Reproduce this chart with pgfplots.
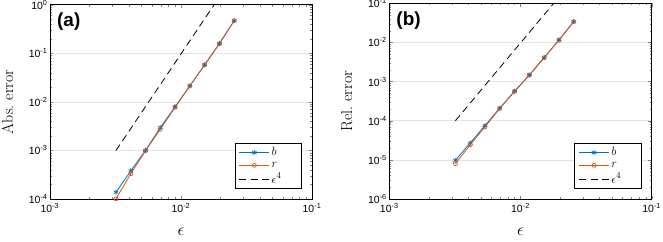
\documentclass[border=0pt]{standalone}
\usepackage{fontspec}
\usepackage{pgfplots}
\usepackage{pgfplotstable}
\pgfplotsset{compat=1.18}
\newfontfamily\arial{Liberation Sans}
\definecolor{mblue}{rgb}{0,0.447,0.741}
\definecolor{morange}{rgb}{0.85,0.325,0.098}

% absolute error: eps, b, r, eps^4 reference
\pgfplotstableread{
eps      b        r        ref
0.00319  1.38e-4  1.01e-4  1.0e-3
0.00414  3.80e-4  3.32e-4  2.83e-3
0.00536  1.00e-3  9.86e-4  8.0e-3
0.00695  2.95e-3  2.72e-3  2.26e-2
0.00901  7.90e-3  7.73e-3  6.4e-2
0.01169  2.14e-2  2.12e-2  0.181
0.01515  5.78e-2  5.73e-2  0.512
0.01965  0.159    0.157    1.448
0.02548  0.471    0.469    4.096
}\absdata

% relative error: eps, b, r, eps^4 reference
\pgfplotstableread{
eps      b        r        ref
0.00319  9.8e-6   8.0e-6   1.0e-4
0.00414  2.7e-5   2.42e-5  2.83e-4
0.00536  7.5e-5   6.98e-5  8.0e-4
0.00695  2.1e-4   2.05e-4  2.26e-3
0.00901  5.7e-4   5.6e-4   6.4e-3
0.01169  1.48e-3  1.46e-3  1.81e-2
0.01515  4.1e-3   4.07e-3  5.12e-2
0.01965  1.16e-2  1.15e-2  0.1448
0.02548  3.42e-2  3.4e-2   0.4096
}\reldata

\tikzset{
  bline/.style={mblue, line width=0.8bp, mark=asterisk, mark size=2.6bp, mark options={solid, line width=0.7bp}},
  rline/.style={morange, line width=0.8bp, mark=o, mark size=2bp, mark options={solid, line width=0.7bp}},
  refline/.style={black, line width=0.8bp, dash pattern=on 7bp off 4.5bp},
}

\newcommand{\lab}[1]{\fontsize{16}{16}\selectfont #1}
\newcommand{\leg}[1]{\makebox[24bp][l]{\fontsize{13}{13}\selectfont #1}}

\pgfplotsset{
  every axis/.append style={
    scale only axis,
    xtick={1e-3,1e-2,1e-1},
    xticklabels={10\textsuperscript{-3},10\textsuperscript{-2},10\textsuperscript{-1}},
    tick label style={font=\arial\fontsize{10.5}{12}\selectfont},
    xticklabel style={yshift=-1bp},
    yticklabel style={xshift=1bp},
    axis line style={line width=0.7bp},
    major tick length=3.5bp, minor tick length=2bp,
    ymajorgrids,
    major grid style={gray!22, line width=0.6bp},
    xlabel style={at={([yshift=-33bp]axis description cs:0.5,0)}, anchor=center},
    ylabel style={at={([xshift=-42.5bp]axis description cs:0,0.5)}, anchor=center},
    legend cell align=left,
    legend style={at={(rel axis cs:1,0)}, anchor=south east, xshift=-10bp, yshift=10bp,
      draw=black, line width=0.6bp, fill=white, inner xsep=4bp, inner ysep=2bp,
      row sep=0.5bp},
    legend image code/.code={
      \draw[mark repeat=2, mark phase=2] plot coordinates {(0bp,0bp) (15bp,0bp) (30bp,0bp)};
    },
  },
}

\begin{document}
\begin{tikzpicture}
\begin{loglogaxis}[
  anchor=south west,
  at={(50bp,43bp)}, width=262bp, height=194.3bp,
  xmin=1e-3, xmax=1e-1,
  ymin=1e-4, ymax=1,
  ytick={1e-4,1e-3,1e-2,1e-1,1},
  yticklabels={10\textsuperscript{-4},10\textsuperscript{-3},10\textsuperscript{-2},10\textsuperscript{-1},10\textsuperscript{0}},
  xlabel={\lab{$\epsilon$}},
  ylabel={\lab{Abs.\ error}},
]
\addplot[bline] table[x=eps, y=b] {\absdata};
\addlegendentry{\leg{$b$}}
\addplot[rline] table[x=eps, y=r] {\absdata};
\addlegendentry{\leg{$r$}}
\addplot[refline] table[x=eps, y=ref] {\absdata};
\addlegendentry{\leg{$\epsilon^4$}}
\node[anchor=north west, font=\arial\bfseries\fontsize{19}{19}\selectfont, inner sep=0pt]
  at (rel axis cs:0,1) [xshift=7bp, yshift=-8bp] {(a)};
\end{loglogaxis}

\begin{loglogaxis}[
  anchor=south west,
  at={(389.3bp,43bp)}, width=262.4bp, height=195.7bp,
  xmin=1e-3, xmax=1e-1,
  ymin=1e-6, ymax=1e-1,
  ytick={1e-6,1e-5,1e-4,1e-3,1e-2,1e-1},
  yticklabels={10\textsuperscript{-6},10\textsuperscript{-5},10\textsuperscript{-4},10\textsuperscript{-3},10\textsuperscript{-2},10\textsuperscript{-1}},
  xlabel={\lab{$\epsilon$}},
  ylabel={\lab{Rel.\ error}},
]
\addplot[bline] table[x=eps, y=b] {\reldata};
\addlegendentry{\leg{$b$}}
\addplot[rline] table[x=eps, y=r] {\reldata};
\addlegendentry{\leg{$r$}}
\addplot[refline] table[x=eps, y=ref] {\reldata};
\addlegendentry{\leg{$\epsilon^4$}}
\node[anchor=north west, font=\arial\bfseries\fontsize{19}{19}\selectfont, inner sep=0pt]
  at (rel axis cs:0,1) [xshift=7bp, yshift=-8bp] {(b)};
\end{loglogaxis}

\pgfresetboundingbox
\path (0bp,0bp) rectangle (663bp,242bp);
\end{tikzpicture}
\end{document}
